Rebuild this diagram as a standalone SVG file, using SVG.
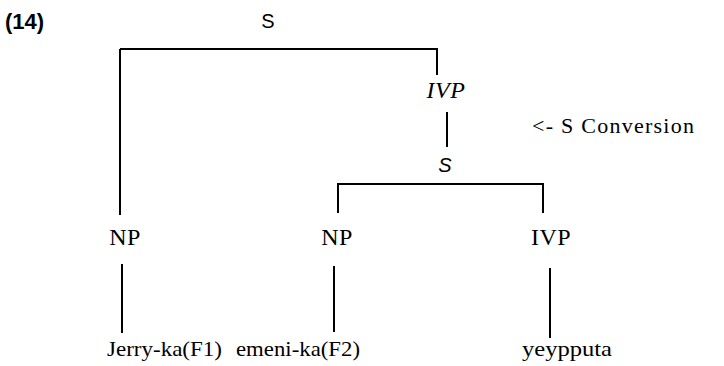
<svg xmlns="http://www.w3.org/2000/svg" width="724" height="366" viewBox="0 0 724 366">
  <style>
    .edge { fill: none; stroke: #000; stroke-width: 2; }
    .lbl { font-family: "Liberation Serif", "Times New Roman", serif; font-size: 24px; fill: #000; text-anchor: middle; letter-spacing: 0.5px; }
    .it { font-style: italic; }
    .word { font-family: "Liberation Serif", "Times New Roman", serif; font-size: 22px; fill: #000; }
    .num { font-family: "Liberation Sans", Arial, sans-serif; font-size: 22px; font-weight: bold; fill: #000; }
    .cat { font-family: "Liberation Sans", Arial, sans-serif; font-size: 20px; fill: #000; text-anchor: middle; }
  </style>
  <rect width="724" height="366" fill="#fff"/>

  <text class="num" x="5" y="29">(14)</text>

  <!-- tree branches -->
  <g id="connectors">
    <path class="edge" d="M120,49 H437 V75"/>
    <path class="edge" d="M120,49 V215"/>
    <path class="edge" d="M447,112 V147"/>
    <path class="edge" d="M338,213 V184 H543 V213"/>
    <path class="edge" d="M122,264 V333"/>
    <path class="edge" d="M334,266 V332"/>
    <path class="edge" d="M550,268 V338"/>
  </g>

  <g id="root-S"><text class="cat" x="268" y="28">S</text></g>
  <g id="IVP-top"><text class="lbl it" x="446" y="98">IVP</text></g>
  <g id="conversion-note"><text class="word" x="532" y="133" textLength="162" lengthAdjust="spacing">&lt;- S Conversion</text></g>
  <g id="S-inner"><text class="cat it" x="445" y="172">S</text></g>

  <g id="NP-1"><text class="lbl" x="125" y="245">NP</text></g>
  <g id="NP-2"><text class="lbl" x="337" y="245">NP</text></g>
  <g id="IVP-2"><text class="lbl" x="551" y="245">IVP</text></g>

  <g id="Jerry"><text class="word" x="107" y="356" textLength="115" lengthAdjust="spacingAndGlyphs">Jerry-ka(F1)</text></g>
  <g id="emeni"><text class="word" x="236" y="356" textLength="124" lengthAdjust="spacingAndGlyphs">emeni-ka(F2)</text></g>
  <g id="yeypputa"><text class="word" x="522" y="356" textLength="90" lengthAdjust="spacingAndGlyphs">yeypputa</text></g>
</svg>
